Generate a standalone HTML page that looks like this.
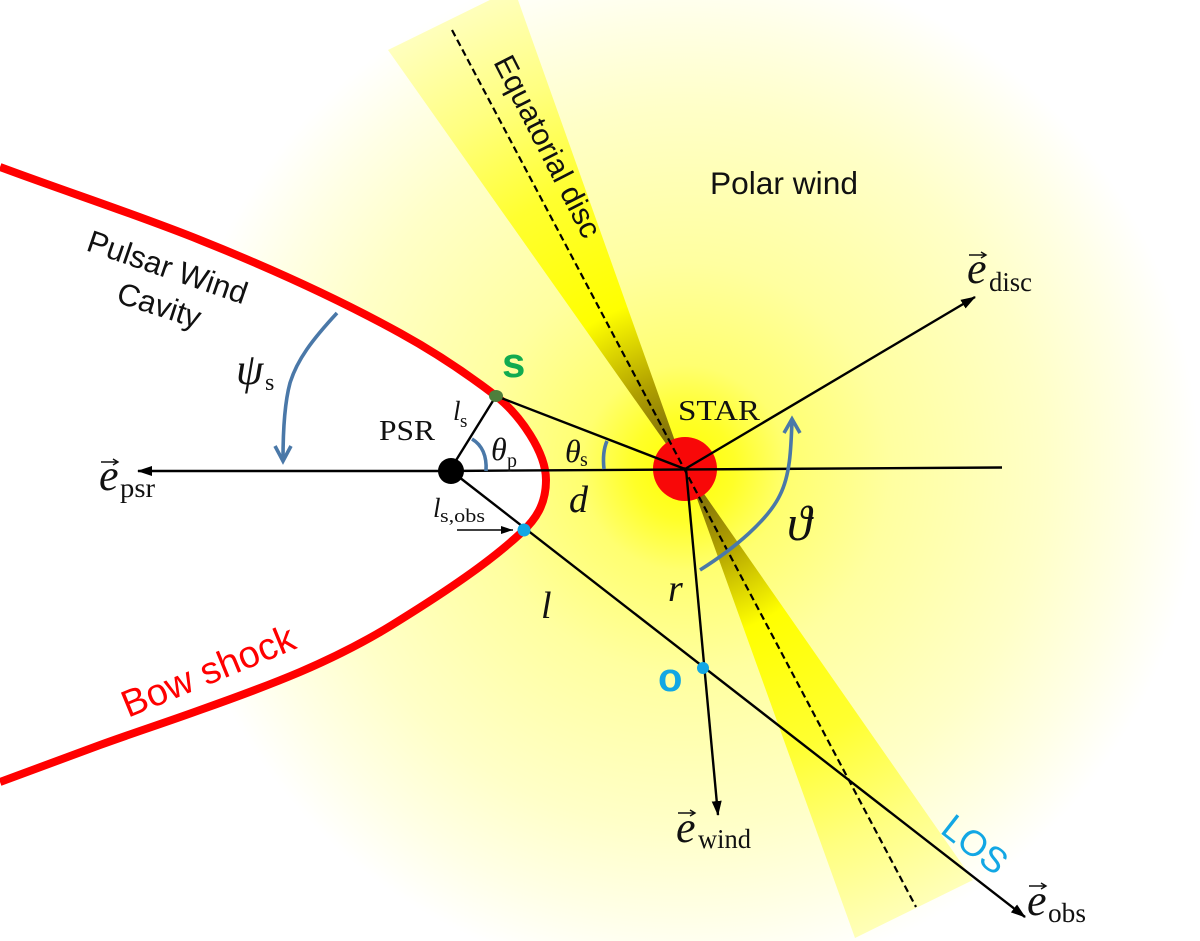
<!DOCTYPE html>
<html><head><meta charset="utf-8"><style>
html,body{margin:0;padding:0;background:#fff}
svg{display:block}
.s{font-family:"Liberation Sans",sans-serif}
.m{font-family:"Liberation Serif",serif;fill:#111}
.i{font-style:italic}
</style></head><body>
<svg width="1200" height="941" viewBox="0 0 1200 941" xmlns="http://www.w3.org/2000/svg">
<defs>
<radialGradient id="g" gradientUnits="userSpaceOnUse" cx="684" cy="468" r="515">
<stop offset="0" stop-color="#ffff00"/>
<stop offset=".1" stop-color="#ffff28"/>
<stop offset=".2" stop-color="#ffff70"/>
<stop offset=".4" stop-color="#ffffa0"/>
<stop offset=".7" stop-color="#ffffc8"/>
<stop offset=".87" stop-color="#ffffe6"/>
<stop offset="1" stop-color="#ffffff"/>
</radialGradient>
<radialGradient id="w" gradientUnits="userSpaceOnUse" cx="684" cy="468" r="520">
<stop offset="0" stop-color="#6a5a08"/>
<stop offset=".08" stop-color="#8a7a08"/>
<stop offset=".17" stop-color="#b0a000"/>
<stop offset=".25" stop-color="#d8d000"/>
<stop offset=".33" stop-color="#ffff00"/>
<stop offset=".58" stop-color="#ffff30"/>
<stop offset=".78" stop-color="#ffff80"/>
<stop offset="1" stop-color="#ffffc4"/>
</radialGradient>
<marker id="a" markerUnits="userSpaceOnUse" markerWidth="18" markerHeight="14" refX="14" refY="6" orient="auto">
<path d="M0 1L15 6L0 11z" fill="#000"/>
</marker>
<marker id="c" markerUnits="userSpaceOnUse" markerWidth="14" markerHeight="12" refX="12" refY="5" orient="auto">
<path d="M0 1L12 5L0 9z" fill="#000"/>
</marker>
</defs>
<rect width="1200" height="941" fill="#fff"/>
<circle cx="684" cy="468" r="515" fill="url(#g)"/>
<path d="M686 472L388 50L500 -5L518 0z" fill="url(#w)"/>
<path d="M686 468L855 938L973 880z" fill="url(#w)"/>
<path d="M0 167C70 193 135 214 200 240C270 268 340 300 400 333C440 355 470 376 496 396C520 415 546 452 546 480C546 505 535 520 522 532C490 562 445 592 400 620C367 641 335 657 300 672C267 686 234 698 200 710C167 722 133 733 100 745C67 757 33 770 0 782z" fill="#fff"/>
<path d="M0 167C70 193 135 214 200 240C270 268 340 300 400 333C440 355 470 376 496 396C520 415 546 452 546 480C546 505 535 520 522 532C490 562 445 592 400 620C367 641 335 657 300 672C267 686 234 698 200 710C167 722 133 733 100 745C67 757 33 770 0 782" fill="none" stroke="#ff0000" stroke-width="8"/>
<circle cx="685" cy="469" r="32" fill="#f80808"/>
<line x1="452" y1="30" x2="916" y2="907" stroke="#000" stroke-width="2.2" stroke-dasharray="7 4"/>
<g stroke="#000" stroke-width="2.4" fill="none">
<line x1="445" y1="471" x2="138" y2="471" marker-end="url(#a)"/>
<line x1="445" y1="471" x2="1002" y2="467.5"/>
<line x1="685" y1="469" x2="975" y2="297" marker-end="url(#a)"/>
<line x1="686" y1="469" x2="718" y2="815" marker-end="url(#a)"/>
<line x1="450" y1="470" x2="1025" y2="917" marker-end="url(#a)"/>
<line x1="450" y1="470" x2="496" y2="396"/>
<line x1="496" y1="396" x2="685" y2="469"/>
<line x1="457" y1="530" x2="513" y2="530" stroke-width="1.6" marker-end="url(#c)"/>
</g>
<ellipse cx="496" cy="396" rx="7" ry="6" fill="#4e7f3c"/>
<circle cx="524" cy="530" r="6.5" fill="#12a7e4"/>
<circle cx="703" cy="668" r="6" fill="#12a7e4"/>
<circle cx="451" cy="471" r="13" fill="#000"/>
<g stroke="#4a78a8" stroke-width="3.6" fill="none">
<path d="M337 313C312 340 297 360 290 383C284 405 283 435 283 460"/>
<path d="M275 446L283 461L291 446"/>
<path d="M700 570C735 548 768 520 780 495C790 475 791 450 792 420"/>
<path d="M784 433L792 419L800 433"/>
<path d="M472 439C482 445 487 456 486 471"/>
<path d="M607 441C603 450 603 460 604 469"/>
</g>
<g class="s" fill="#111">
<text x="710" y="194" font-size="31.7">Polar wind</text>
<text transform="translate(85 250) rotate(19)" font-size="31">Pulsar Wind</text>
<text transform="translate(115 302) rotate(18)" font-size="31">Cavity</text>
<text transform="translate(493 62) rotate(63)" font-size="30.5">Equatorial disc</text>
</g>
<text class="s" transform="translate(128 718) rotate(-22.4)" font-size="38" fill="#ff0000" textLength="184">Bow shock</text>
<text class="s" x="502" y="377" font-size="42" font-weight="bold" fill="#10ab50">s</text>
<text class="s" x="658" y="691" font-size="40" font-weight="bold" fill="#12a7e4">o</text>
<text class="s" transform="translate(939 832) rotate(38)" font-size="36" fill="#12a7e4">LOS</text>
<g class="m">
<text x="379" y="440" font-size="28" textLength="56" lengthAdjust="spacingAndGlyphs">PSR</text>
<text x="678" y="420" font-size="28" textLength="82" lengthAdjust="spacingAndGlyphs">STAR</text>
<text x="453" y="420" font-size="27" class="m i">l</text><text x="460" y="427" font-size="19">s</text>
<text x="491" y="460" font-size="32" class="m i">θ</text><text x="507" y="467" font-size="20">p</text>
<text x="565" y="462" font-size="32" class="m i">θ</text><text x="580" y="466" font-size="20">s</text>
<text x="569" y="512" font-size="38" class="m i">d</text>
<text x="433" y="517" font-size="27" class="m i">l</text><text x="440" y="522" font-size="19" textLength="45" lengthAdjust="spacingAndGlyphs">s,obs</text>
<text x="541" y="618" font-size="38" class="m i">l</text>
<text x="668" y="601" font-size="38" class="m i">r</text>
<text x="787" y="540" font-size="50" class="m i">ϑ</text>
<text x="236" y="384" font-size="44" class="m i">ψ</text><text x="265" y="390" font-size="24">s</text>
<text x="99" y="490" font-size="44" class="m i">e</text><text x="120" y="497" font-size="27" textLength="35" lengthAdjust="spacingAndGlyphs">psr</text>
<text x="967" y="283" font-size="44" class="m i">e</text><text x="989" y="291" font-size="27" textLength="43" lengthAdjust="spacingAndGlyphs">disc</text>
<text x="676" y="842" font-size="44" class="m i">e</text><text x="698" y="848" font-size="27" textLength="53" lengthAdjust="spacingAndGlyphs">wind</text>
<text x="1027" y="915" font-size="44" class="m i">e</text><text x="1048" y="922" font-size="27" textLength="38" lengthAdjust="spacingAndGlyphs">obs</text>
</g>
<g stroke="#111" stroke-width="1.4" fill="none">
<path d="M101 462H117M113 459L118 462L113 465"/>
<path d="M969 255H985M981 252L986 255L981 258"/>
<path d="M678 813H694M690 810L695 813L690 816"/>
<path d="M1029 886H1045M1041 883L1046 886L1041 889"/>
</g>
</svg>
</body></html>
